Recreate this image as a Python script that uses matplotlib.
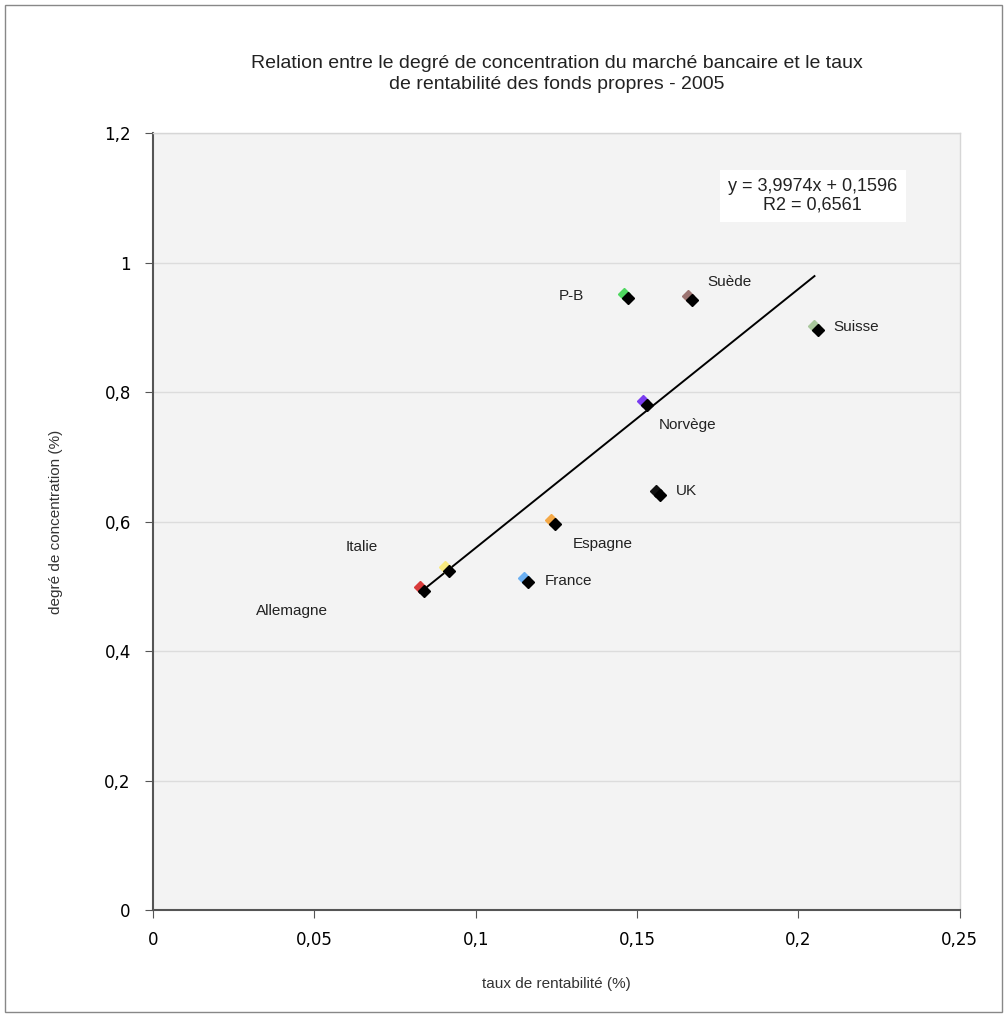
import matplotlib
matplotlib.use("Agg")
import matplotlib.pyplot as plt
import matplotlib.transforms as mtransforms
from matplotlib.patches import Rectangle
import numpy as np

# data
pays = ["P-B", "Suède", "Suisse", "Norvège", "UK", "Espagne", "France", "Italie", "Allemagne"]
rentabilite = [0.1459, 0.1657, 0.2050, 0.1518, 0.1558, 0.1233, 0.1149, 0.0905, 0.0827]
concentration = [0.951, 0.948, 0.902, 0.786, 0.647, 0.602, 0.513, 0.530, 0.499]
couleurs = ["#4fd760", "#9c7471", "#a9c89c", "#7a3cf0", "#111111", "#f4a846", "#6cb0f2", "#f8ea80", "#d83b3b"]
# label offsets in points (dx, dy) from the marker
label_pos = [(-38, -1), (30, 10), (30, -1), (32, -17), (22, 0), (37, -17), (32, -2), (-60, 14), (-92, -17)]

a, b = 3.9974, 0.1596
r2 = 0.6561

plt.rcParams['font.family'] = ['Liberation Sans', 'DejaVu Sans']

fig = plt.figure(figsize=(10.07, 10.17), dpi=100)
fig.patches.append(Rectangle((5 / 1007, 5 / 1017), 997 / 1007, 1007 / 1017,
                             transform=fig.transFigure, fill=False,
                             edgecolor="#888888", linewidth=1))
ax = fig.add_axes([0.152, 0.1052, 0.801, 0.764])
ax.set_facecolor("#f3f3f3")

ax.set_xlim(0, 0.25)
ax.set_ylim(0, 1.2)
ax.set_xticks(np.arange(0, 0.2501, 0.05))
ax.set_yticks(np.arange(0, 1.2001, 0.2))
ax.set_xticklabels(["0", "0,05", "0,1", "0,15", "0,2", "0,25"], family="DejaVu Sans", fontsize=12)
ax.set_yticklabels(["0", "0,2", "0,4", "0,6", "0,8", "1", "1,2"], family="DejaVu Sans", fontsize=12)
ax.tick_params(axis="x", direction="out", length=6, color="#555555", pad=9)
ax.tick_params(axis="y", direction="out", length=6, color="#555555", pad=10)
ax.grid(axis="y", color="#dcdcdc", linewidth=1)
ax.set_axisbelow(True)
for s in ["left", "bottom"]:
    ax.spines[s].set_color("#555555")
    ax.spines[s].set_linewidth(1.5)
for s in ["top", "right"]:
    ax.spines[s].set_color("#d6d6d6")
    ax.spines[s].set_linewidth(1)

# trend line
xs = np.array([min(rentabilite), max(rentabilite)])
ax.plot(xs, a * xs + b, color="black", linewidth=1.4, zorder=2)

shadow = mtransforms.offset_copy(ax.transData, fig=fig, x=4, y=-4, units="dots")
for i in range(len(pays)):
    ax.plot(rentabilite[i], concentration[i], marker="D", markersize=6.5,
            color=couleurs[i], linestyle="none", zorder=3)
    ax.plot(rentabilite[i], concentration[i], marker="D", markersize=6,
            color="black", linestyle="none", zorder=4, transform=shadow)
    ax.annotate(pays[i], (rentabilite[i], concentration[i]), xytext=label_pos[i],
                textcoords="offset points", ha="center", va="center",
                fontsize=11, color="#222222")

eq = "y = %s x + %s\nR2 = %s" % (str(a).replace(".", ","), str(b).replace(".", ","),
                                  str(r2).replace(".", ","))
eq = eq.replace(" x", "x")
ax.text(0.818, 0.919, eq, transform=ax.transAxes, ha="center", va="center", fontsize=13,
        linespacing=1.1, color="#222222",
        bbox=dict(facecolor="white", edgecolor="none", pad=6))

fig.text(0.553, 0.927, "Relation entre le degré de concentration du marché bancaire et le taux\nde rentabilité des fonds propres - 2005",
         ha="center", va="center", fontsize=14, color="#222222", linespacing=1.3)
ax.set_xlabel("taux de rentabilité (%)", fontsize=11, color="#333333", labelpad=20)
ax.set_ylabel("degré de concentration (%)", fontsize=11, color="#333333", labelpad=30)

fig.savefig("out.png", dpi=100)
